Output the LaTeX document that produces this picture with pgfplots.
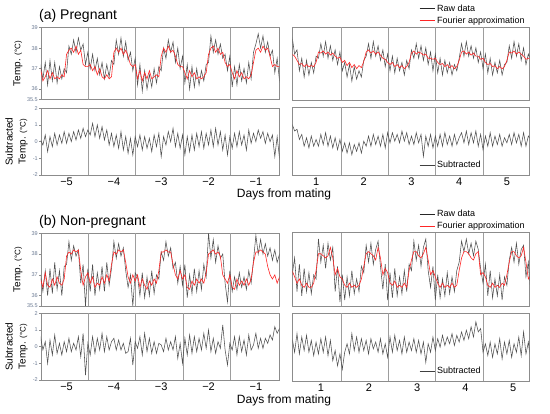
\documentclass[border=0pt]{standalone}
\usepackage{pgfplots}
\pgfplotsset{compat=1.18}
\usepackage{pgfplotstable}
\usepackage{fontspec}
\setmainfont{Liberation Sans}
\definecolor{rawc}{HTML}{505050}
\definecolor{fourc}{HTML}{FF2626}
\definecolor{framec}{HTML}{8C8C8C}
\definecolor{tickc}{HTML}{6B7A93}

\pgfplotstableread{
t ra fa sa rb fb sb
-5.60 37.4 37.0 0.3 37.3 36.8 0.5
-5.55 37.2 37.0 0.1 37.0 36.8 0.6
-5.50 36.5 36.4 -0.2 36.2 36.4 -0.2
-5.45 37.3 36.6 0.4 37.2 37.1 0.3
-5.40 36.2 36.9 -0.6 36.0 36.5 -1.0
-5.35 37.4 36.5 0.3 37.3 36.4 0.4
-5.30 36.4 36.8 -0.3 36.1 36.8 -0.5
-5.25 37.3 36.5 0.5 37.6 36.5 0.7
-5.20 36.3 36.6 -0.2 36.3 36.9 -0.4
-5.15 37.1 36.5 0.4 37.2 36.6 0.2
-5.10 36.5 36.7 -0.1 36.0 36.5 -0.5
-5.05 37.0 36.6 0.6 37.4 36.8 0.3
-5.00 36.8 37.7 -0.1 37.5 37.9 -0.3
-4.95 38.1 37.9 0.5 38.6 38.1 0.5
-4.90 37.7 38.0 0.0 37.7 38.0 -0.3
-4.85 38.4 37.8 0.6 38.4 38.2 0.2
-4.80 37.8 38.1 0.1 37.9 38.1 -0.2
-4.75 38.5 37.7 0.7 38.2 38.2 0.6
-4.70 37.9 37.9 0.2 36.6 37.2 -0.6
-4.65 38.2 37.2 0.8 37.5 36.5 0.8
-4.60 37.2 37.1 0.3 35.5 36.9 -1.7
-4.55 37.8 37.1 0.7 37.3 37.1 0.2
-4.50 37.0 37.2 0.4 36.2 36.6 -0.5
-4.45 37.7 36.9 1.1 37.5 36.9 0.6
-4.40 36.9 37.1 0.3 36.0 36.4 -0.4
-4.35 37.5 36.7 1.0 37.1 36.6 0.5
-4.30 36.7 37.0 0.2 36.3 36.5 -0.2
-4.25 37.3 36.6 0.9 37.4 36.9 0.8
-4.20 36.5 36.5 0.1 36.2 36.6 -0.3
-4.15 37.2 36.7 0.7 37.6 37.0 0.6
-4.10 36.6 36.5 -0.2 36.5 36.7 -0.2
-4.05 37.4 36.6 0.5 37.3 37.5 0.3
-4.00 37.2 37.8 -0.3 38.6 38.1 0.5
-3.95 38.4 38.0 0.4 37.8 38.0 -0.2
-3.90 37.7 37.8 -0.4 38.5 38.2 0.4
-3.85 38.5 38.0 0.6 37.9 38.1 -0.2
-3.80 37.6 37.7 -0.5 38.3 38.2 0.2
-3.75 38.3 37.9 0.3 37.2 37.6 -0.4
-3.70 37.4 37.6 -0.7 36.4 36.9 -0.3
-3.65 37.8 37.2 0.2 37.0 36.6 0.5
-3.60 36.9 37.1 -0.8 35.5 37.0 -1.1
-3.55 37.5 37.2 0.3 37.1 36.7 0.3
-3.50 36.2 36.5 -0.3 36.9 37.0 -0.1
-3.45 37.2 36.9 0.4 36.0 36.4 0.6
-3.40 35.9 36.4 -0.5 37.1 36.8 -0.5
-3.35 36.9 36.8 0.3 35.9 36.5 0.8
-3.30 36.0 36.5 -0.4 36.9 36.3 -0.3
-3.25 36.7 36.9 0.2 36.0 36.7 0.5
-3.20 36.1 36.5 -0.6 37.2 36.5 -0.4
-3.15 37.0 36.6 0.4 36.1 36.8 0.3
-3.10 36.3 36.7 -0.3 37.0 36.6 -0.4
-3.05 37.1 36.6 0.5 36.8 37.2 0.2
-3.00 36.9 37.6 -0.9 38.1 38.1 0.1
-2.95 38.0 38.0 0.3 37.7 38.1 -0.3
-2.90 37.5 37.8 -0.2 38.6 38.2 0.5
-2.85 38.4 38.1 0.6 37.9 38.1 -0.2
-2.80 37.8 37.8 0.0 38.3 38.1 0.3
-2.75 38.3 37.9 0.8 37.3 37.5 -0.2
-2.70 37.3 37.6 -0.3 37.6 37.0 0.6
-2.65 38.0 37.2 0.5 36.6 36.8 -0.7
-2.60 37.0 37.1 -0.4 37.4 37.2 0.2
-2.55 37.6 37.1 0.4 36.5 36.8 -1.0
-2.50 36.3 36.8 -0.8 37.5 37.0 0.5
-2.45 37.2 36.5 0.3 35.9 36.4 -0.5
-2.40 36.0 36.9 -0.6 37.0 36.3 0.7
-2.35 37.1 36.6 0.4 36.1 36.7 -0.4
-2.30 36.1 36.8 -0.5 37.3 36.5 0.6
-2.25 37.0 36.5 0.5 36.2 36.8 -0.3
-2.20 36.2 36.6 -0.3 37.2 36.6 0.5
-2.15 36.9 36.5 0.6 36.3 36.8 -0.2
-2.10 36.4 36.6 -0.4 37.5 36.6 0.8
-2.05 37.2 36.8 0.5 36.9 37.1 -0.1
-2.00 37.3 37.7 -0.2 39.0 38.0 1.0
-1.95 38.6 38.0 0.7 37.8 38.1 -0.3
-1.90 37.8 38.1 -0.3 38.7 38.2 0.5
-1.85 38.4 37.8 0.8 37.6 38.0 -0.4
-1.80 37.7 38.0 -0.2 38.4 38.1 0.3
-1.75 38.2 37.7 0.6 37.8 37.9 -0.1
-1.70 37.5 37.8 -0.5 38.0 37.0 1.3
-1.65 37.7 37.3 0.4 36.6 36.8 -0.2
-1.60 36.9 37.1 -0.8 35.7 36.6 -1.1
-1.55 37.6 37.2 0.3 37.2 37.0 0.2
-1.50 36.1 36.8 -0.4 36.2 36.4 -0.2
-1.45 37.1 36.5 0.5 36.9 36.3 0.6
-1.40 36.2 36.9 -0.3 36.3 36.8 -0.5
-1.35 37.2 36.6 0.6 37.1 36.5 0.6
-1.30 36.4 36.8 -0.2 36.4 36.7 -0.3
-1.25 37.0 36.5 0.4 36.9 36.5 0.4
-1.20 36.3 36.6 -0.5 36.3 36.8 -0.5
-1.15 37.3 36.5 0.7 37.2 36.5 0.7
-1.10 36.5 36.7 -0.1 36.6 36.8 -0.2
-1.05 37.8 37.3 0.5 37.7 37.6 0.1
-1.00 38.2 37.9 0.0 38.9 38.1 0.8
-0.95 38.7 38.0 0.7 38.0 38.1 -0.1
-0.90 38.0 37.8 0.2 38.7 38.2 0.5
-0.85 38.6 38.1 0.6 38.0 38.1 -0.1
-0.80 37.8 37.9 -0.1 38.5 38.0 0.5
-0.75 38.3 38.0 0.5 37.9 37.4 0.2
-0.70 37.6 37.6 0.0 38.3 37.0 0.7
-0.65 37.9 37.1 0.4 37.7 36.8 0.4
-0.60 36.8 37.2 -0.9 38.2 37.0 1.2
-0.55 37.5 37.1 0.3 37.6 36.6 0.8
-0.50 36.4 37.1 -1.0 38.0 36.9 1.1
-0.45 37.0 37.1 -0.4 37.5 36.7 0.9
}\lefttab

\pgfplotstableread{
t ra fa sa rb fb sb
0.45 38.6 37.7 0.9 37.6 37.3 0.3
0.50 38.5 37.7 1.0 37.0 37.2 0.5
0.55 37.7 37.6 0.6 37.8 36.9 -0.3
0.60 37.9 37.4 0.7 36.2 36.6 0.8
0.65 36.9 37.2 0.1 37.5 36.8 -0.4
0.70 37.5 37.25 0.4 36.0 36.5 0.6
0.75 36.6 37.1 -0.3 37.3 36.4 -0.2
0.80 37.4 37.2 0.2 36.2 36.6 0.7
0.85 36.7 37.1 -0.4 37.1 36.4 -0.3
0.90 37.3 37.15 0.3 36.1 36.4 0.4
0.95 36.8 37.1 -0.3 37.0 36.6 -0.5
1.00 37.6 37.3 0.1 36.8 37.2 0.3
1.05 37.5 37.8 -0.3 38.7 38.0 -0.4
1.10 38.2 37.75 0.4 37.6 38.0 0.5
1.15 37.6 37.85 -0.2 38.4 37.9 -0.3
1.20 38.3 37.7 0.5 37.3 37.8 0.6
1.25 37.5 37.8 -0.3 38.5 37.9 -0.5
1.30 38.1 37.65 0.3 37.7 38.3 0.4
1.35 37.4 37.75 -0.4 38.3 37.8 -0.8
1.40 37.9 37.6 0.2 36.2 37.0 -0.2
1.45 37.2 37.5 -0.5 37.4 37.3 -1.1
1.50 37.8 37.55 0.1 35.7 36.9 -0.4
1.55 36.9 37.3 -0.6 37.0 36.8 -1.3
1.60 37.3 37.4 -0.1 35.8 36.5 -0.3
1.65 36.6 37.15 -0.7 36.9 36.4 0.2
1.70 37.2 37.3 -0.1 36.0 36.6 -0.4
1.75 36.4 37.05 -0.8 37.2 36.4 0.8
1.80 37.1 37.2 -0.2 36.1 36.5 -0.2
1.85 36.5 37.0 -0.6 36.8 36.4 0.6
1.90 36.9 37.15 -0.1 36.2 36.5 -0.3
1.95 36.6 37.05 -0.7 37.4 36.8 0.5
2.00 37.4 37.35 0.0 37.1 37.4 -0.2
2.05 37.6 37.8 -0.3 38.4 38.0 0.4
2.10 38.2 37.9 0.3 37.6 38.1 -0.4
2.15 37.5 37.75 -0.3 38.5 38.0 0.5
2.20 38.3 37.85 0.4 37.5 37.9 -0.1
2.25 37.6 37.7 -0.2 38.2 37.7 0.3
2.30 38.1 37.8 0.3 38.6 38.3 -0.3
2.35 37.4 37.65 -0.3 37.4 37.8 0.5
2.40 37.9 37.5 0.4 36.3 37.0 -0.4
2.45 37.1 37.45 -0.4 37.5 37.3 0.2
2.50 37.7 37.3 0.5 35.8 37.1 -0.6
2.55 36.9 37.2 -0.1 37.1 36.6 0.6
2.60 37.6 37.3 0.5 35.9 36.5 -0.3
2.65 36.8 37.1 0.0 37.3 36.7 0.7
2.70 37.5 37.2 0.4 36.0 36.4 -0.2
2.75 36.9 37.05 -0.1 36.9 36.5 0.4
2.80 37.3 37.15 0.6 36.1 36.4 -0.4
2.85 36.7 37.0 0.0 37.2 36.6 0.6
2.90 37.4 37.1 0.5 36.2 36.4 -0.3
2.95 37.0 37.3 -0.2 37.5 37.2 0.3
3.00 37.9 37.75 0.3 37.2 37.7 -0.2
3.05 37.5 37.85 -0.2 38.6 38.1 0.5
3.10 38.2 37.7 0.5 37.7 38.1 -0.3
3.15 37.5 37.8 -0.1 38.4 37.9 0.4
3.20 38.1 37.75 0.4 37.4 37.8 -0.4
3.25 37.4 37.65 -0.9 38.3 38.0 0.3
3.30 38.0 37.7 0.3 38.7 38.3 -0.9
3.35 37.2 37.5 -0.3 37.2 37.7 0.2
3.40 37.8 37.5 0.4 36.4 37.0 -0.3
3.45 36.9 37.45 -0.4 37.4 37.2 0.6
3.50 37.7 37.5 0.3 35.8 36.9 -0.2
3.55 36.8 37.3 -0.3 37.0 36.6 0.5
3.60 37.5 37.2 0.4 35.9 36.4 0.0
3.65 36.7 37.25 -0.3 36.8 36.6 0.7
3.70 37.4 37.1 0.5 36.0 36.4 0.1
3.75 36.8 37.2 -0.2 37.1 36.5 0.6
3.80 37.3 37.05 0.3 36.1 36.4 0.2
3.85 36.7 37.15 -0.3 36.9 36.6 0.8
3.90 37.2 37.0 0.4 36.2 36.4 0.1
3.95 36.9 37.1 -0.2 37.2 36.5 0.7
4.00 37.5 37.4 0.2 37.6 37.2 0.3
4.05 38.2 37.8 0.5 38.6 37.8 0.9
4.10 37.6 37.85 -0.1 38.1 38.1 0.4
4.15 38.3 37.7 0.6 38.7 38.1 1.0
4.20 37.6 37.8 -0.2 38.0 38.0 0.5
4.25 38.1 37.65 0.5 38.5 37.8 1.2
4.30 37.5 37.75 -0.1 37.9 37.7 0.6
4.35 38.0 37.6 0.6 38.6 38.0 1.5
4.40 37.3 37.6 -0.3 38.2 38.1 0.9
4.45 37.8 37.45 0.4 37.3 37.0 1.1
4.50 37.0 37.5 -0.5 36.6 37.1 -0.3
4.55 37.7 37.3 0.3 37.5 36.9 0.2
4.60 36.8 37.2 -0.3 36.0 36.5 -0.5
4.65 37.5 37.25 0.5 37.2 36.4 0.3
4.70 36.7 37.1 -0.3 35.9 36.6 -0.6
4.75 37.3 37.15 0.3 36.8 36.4 0.2
4.80 36.8 37.0 -0.2 36.0 36.5 -0.4
4.85 37.4 37.1 0.4 37.0 36.4 0.5
4.90 36.7 37.0 -0.3 35.8 36.6 -0.7
4.95 37.2 37.1 0.2 36.9 36.5 0.3
5.00 37.3 37.4 -0.1 36.5 37.0 -0.4
5.05 38.1 37.8 0.4 37.7 37.6 0.4
5.10 37.5 37.75 -0.2 38.3 38.1 -0.6
5.15 38.3 37.85 0.5 37.6 38.1 0.2
5.20 37.6 37.7 -0.1 38.5 37.9 -0.3
5.25 38.2 37.8 0.4 37.5 37.8 0.6
5.30 37.4 37.7 -0.3 38.2 37.9 -0.5
5.35 38.0 37.6 0.5 38.4 38.3 0.9
5.40 37.2 37.45 -0.3 36.9 37.6 -0.4
5.45 37.7 37.5 0.3 37.6 36.8 0.3
5.50 37.4 37.5 0.1 35.8 37.0 -0.9
}\righttab

\pgfplotsset{
  base/.style={
    scale only axis, clip=true,
    axis line style={draw=framec, line width=0.7pt},
    tick align=outside, major tick length=2pt,
    ytick pos=left, xtick pos=bottom,
    every tick/.style={draw=framec, line width=0.5pt},
    /pgf/number format/assume math mode=true,
    yticklabel style={font=\fontsize{5.5}{6}\selectfont, text=tickc, inner sep=1pt},
    xticklabel style={font=\fontsize{11}{12}\selectfont, inner sep=1pt},
    xtick style={draw=none},
    extra x tick style={grid=major, major grid style={draw=framec!85, line width=0.7pt}},
    extra x tick labels={},
    ylabel style={font=\fontsize{10}{13}\selectfont, align=center},
  },
  leftax/.style={base, width=238.3pt, xmin=-5.54, xmax=-0.505,
    extra x ticks={-4.54,-3.54,-2.54,-1.54}},
  rightax/.style={base, width=236.6pt, xmin=0.51, xmax=5.47,
    extra x ticks={1.52,2.51,3.51,4.50}},
  upper/.style={ymin=35.5, ymax=39, ytick={35.5,36,37,38,39},
    yticklabels={35.5,36,37,38,39}, xtick=\empty},
  lower/.style={ymin=-2, ymax=2, ytick={-2,-1,0,1,2},
    yticklabels={-2,-1,0,1,2}},
  leftx/.style={xtick={-5,-4,-3,-2,-1}, xticklabels={−5,−4,−3,−2,−1}},
  rawline/.style={rawc, line width=0.55pt},
  fourline/.style={fourc, line width=0.6pt},
  toplegend/.style={legend cell align=left,
    legend style={draw=none, fill=none, inner sep=0pt,
      at={(axis description cs:0.534,1.17)}, anchor=west,
      font=\fontsize{9}{10}\selectfont},
    legend image code/.code={\draw[##1] (0pt,0pt) -- (15pt,0pt);}},
  sublegend/.style={legend cell align=left,
    legend style={draw=none, fill=none, inner sep=0pt,
      at={(axis description cs:0.534,0.148)}, anchor=west,
      font=\fontsize{9}{10}\selectfont},
    legend image code/.code={\draw[##1] (0pt,0pt) -- (15pt,0pt);}},
}

\begin{document}
\begin{tikzpicture}
\path[use as bounding box] (0pt,0pt) rectangle (550pt,414pt);

% ---------------- (a) Pregnant ----------------
\node[anchor=base west, font=\fontsize{14}{16}\selectfont, inner sep=0pt] at (39pt,394.7pt) {(a) Pregnant};

\begin{axis}[leftax, upper, at={(41pt,314.7pt)}, anchor=south west, height=71.6pt,
  ylabel={Temp. {\fontsize{8}{8}\selectfont(°C)}},
  ylabel style={at={(axis description cs:-0.097,0.5)}, anchor=center}]
\addplot[rawline] table[x=t,y=ra]{\lefttab};
\addplot[fourline] table[x=t,y=fa]{\lefttab};
\end{axis}

\begin{axis}[leftax, lower, leftx, at={(41pt,239pt)}, anchor=south west, height=66.7pt,
  ylabel={Subtracted\\Temp. {\fontsize{8}{8}\selectfont(°C)}},
  ylabel style={at={(axis description cs:-0.103,0.5)}, anchor=center}]
\addplot[rawline] table[x=t,y=sa]{\lefttab};
\end{axis}

\begin{axis}[rightax, upper, ytick=\empty, at={(292.7pt,314pt)}, anchor=south west, height=73pt, toplegend]
\addplot[rawline, forget plot] table[x=t,y=ra]{\righttab};
\addplot[fourline, forget plot] table[x=t,y=fa]{\righttab};
\addlegendimage{black!85, line width=0.8pt}
\addlegendentry{Raw data}
\addlegendimage{fourc, line width=0.8pt}
\addlegendentry{Fourier approximation}
\end{axis}

\begin{axis}[rightax, lower, ytick=\empty, at={(292.7pt,239pt)}, anchor=south west, height=67.7pt,
  xtick={1,2,3,4,5}, xticklabels={1,2,3,4,5}, sublegend]
\addplot[rawline, forget plot] table[x=t,y=sa]{\righttab};
\addlegendimage{black!75, line width=0.8pt}
\addlegendentry{Subtracted}
\end{axis}

\node[anchor=base, font=\fontsize{12}{14}\selectfont, inner sep=0pt] at (284pt,216pt) {Days from mating};

% ---------------- (b) Non-pregnant ----------------
\node[anchor=base west, font=\fontsize{14}{16}\selectfont, inner sep=0pt] at (39pt,188.3pt) {(b) Non-pregnant};

\begin{axis}[leftax, upper, at={(41pt,108pt)}, anchor=south west, height=72.7pt,
  ylabel={Temp. {\fontsize{8}{8}\selectfont(°C)}},
  ylabel style={at={(axis description cs:-0.097,0.5)}, anchor=center}]
\addplot[rawline] table[x=t,y=rb]{\lefttab};
\addplot[fourline] table[x=t,y=fb]{\lefttab};
\end{axis}

\begin{axis}[leftax, lower, leftx, at={(41pt,34pt)}, anchor=south west, height=66.7pt,
  ylabel={Subtracted\\Temp. {\fontsize{8}{8}\selectfont(°C)}},
  ylabel style={at={(axis description cs:-0.103,0.5)}, anchor=center}]
\addplot[rawline] table[x=t,y=sb]{\lefttab};
\end{axis}

\begin{axis}[rightax, upper, ytick=\empty, at={(292.7pt,107.7pt)}, anchor=south west, height=73.6pt, toplegend]
\addplot[rawline, forget plot] table[x=t,y=rb]{\righttab};
\addplot[fourline, forget plot] table[x=t,y=fb]{\righttab};
\addlegendimage{black!85, line width=0.8pt}
\addlegendentry{Raw data}
\addlegendimage{fourc, line width=0.8pt}
\addlegendentry{Fourier approximation}
\end{axis}

\begin{axis}[rightax, lower, ytick=\empty, at={(292.7pt,33pt)}, anchor=south west, height=67.7pt,
  xtick={1.1,2.11,3.12,4.13,5.13}, xticklabels={1,2,3,4,5}, sublegend]
\addplot[rawline, forget plot] table[x=t,y=sb]{\righttab};
\addlegendimage{black!75, line width=0.8pt}
\addlegendentry{Subtracted}
\end{axis}

\node[anchor=base, font=\fontsize{12}{14}\selectfont, inner sep=0pt] at (284pt,10pt) {Days from mating};
\end{tikzpicture}
\end{document}
